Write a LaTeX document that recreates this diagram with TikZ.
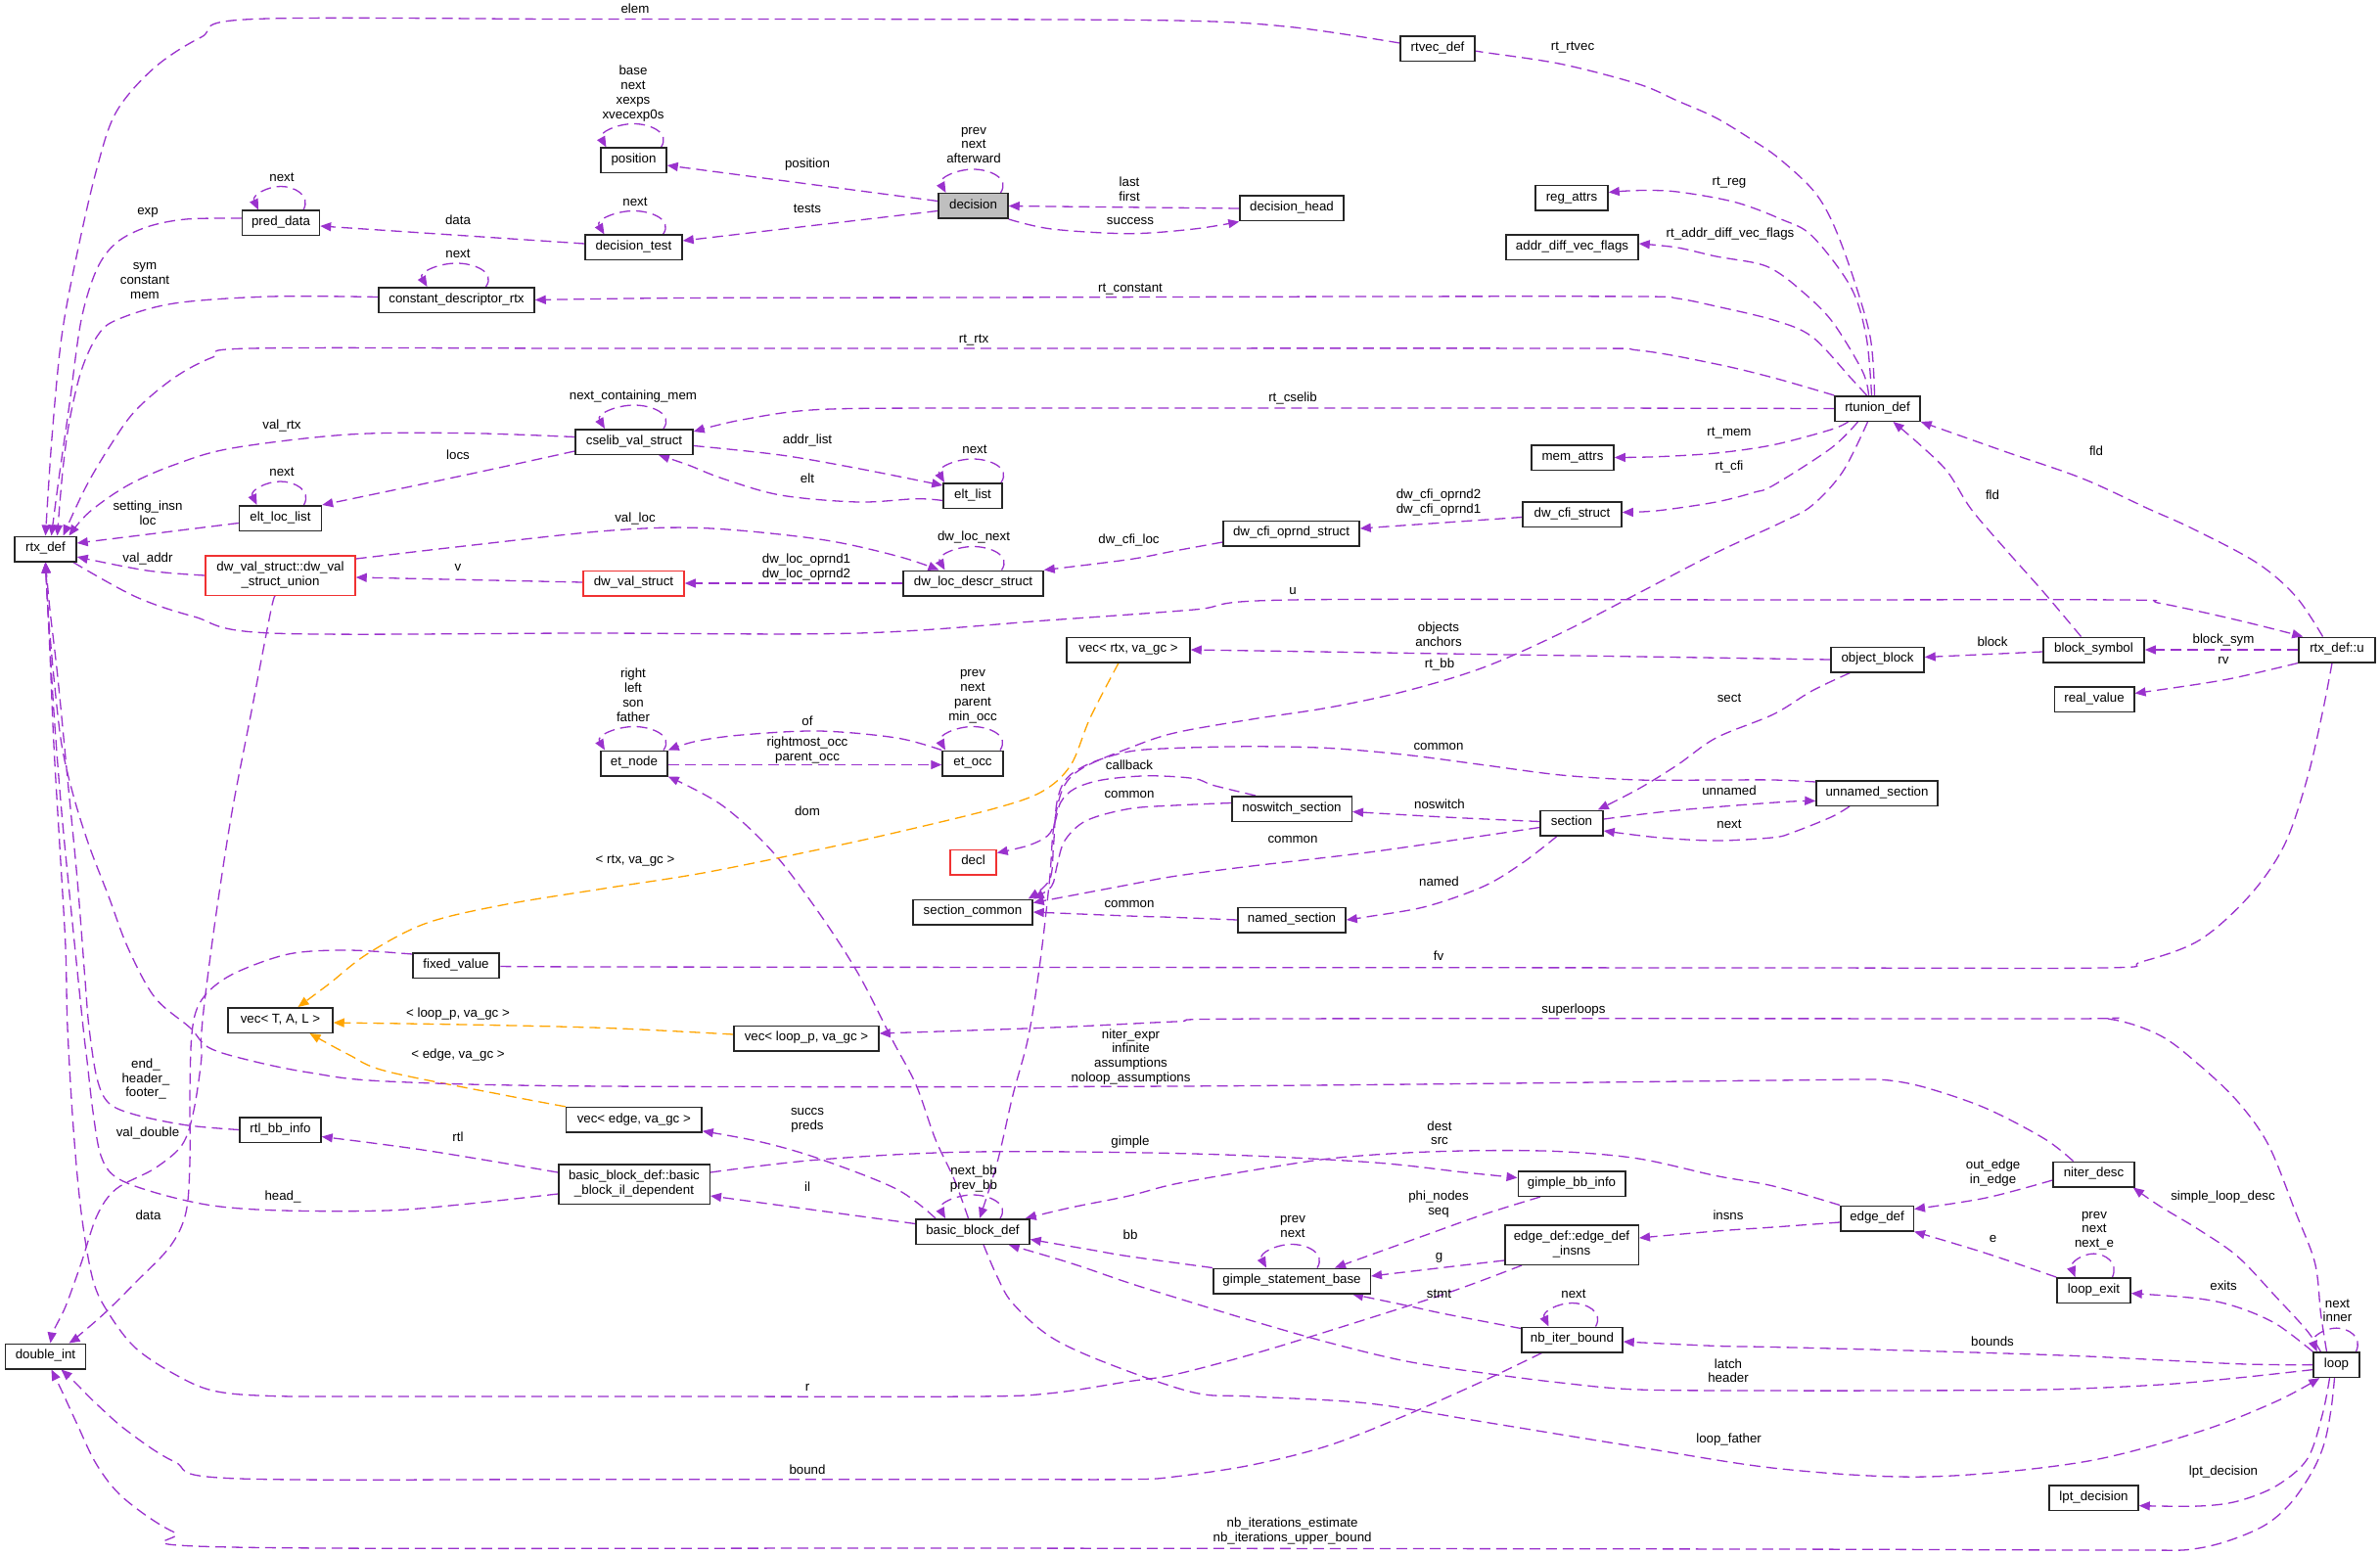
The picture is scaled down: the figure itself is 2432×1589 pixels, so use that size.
\documentclass[tikz,border=0pt]{standalone}
\usepackage{fontspec}
\setmainfont{Liberation Sans}
\usetikzlibrary{arrows.meta,calc}
\definecolor{cEdge}{RGB}{154,50,205}
\definecolor{cOrange}{RGB}{255,165,0}
\definecolor{cRed}{RGB}{240,50,50}
\definecolor{cHl}{RGB}{191,191,191}
\newcommand\gfont{\fontsize{13.3}{14.8}\selectfont}
\pgfdeclarelayer{bgw}
\pgfdeclarelayer{edges}
\pgfsetlayers{bgw,edges,main}
\newcommand\myloop[2]{\draw[e] ($(#1.north)+(#2,0)$) .. controls +(0.35*#2,-15) and +(0.6*#2,0) .. ($(#1.north)+(0,-24)$) .. controls +(-0.6*#2,0) and +(-0.3*#2,-15) .. ($(#1.north)+(-#2,0)$);}
\begin{document}
\begin{tikzpicture}[x=1pt,y=-1pt,
 box/.style={draw=black!85, line width=1.5pt, fill=white, minimum height=25.5pt, inner sep=0pt, font=\gfont, align=center, execute at begin node=\strut, execute at end node=\strut},
 box2/.style={box, minimum height=40.5pt},
 redbox/.style={draw=cRed},
 hlbox/.style={fill=cHl},
 lab/.style={font=\gfont, align=center, inner sep=0pt, execute at begin node=\strut, execute at end node=\strut},
 e/.style={draw=cEdge, line width=1.3pt, dash pattern=on 11pt off 6pt, -{Triangle[length=11pt,width=9pt]}},
 eo/.style={e, draw=cOrange},
]
\useasboundingbox (0,0) rectangle (2432,1589);
\begin{pgfonlayer}{bgw}
\fill[white] (0,0) rectangle (2432,1589);
\end{pgfonlayer}

% ---------- nodes ----------
\node[box, minimum width=63pt] (rtxdef) at (46.5,561) {rtx\_def};
\node[box, minimum width=82pt] (doubleint) at (46.5,1386) {double\_int};
\node[box, minimum width=79pt] (preddata) at (287,228) {pred\_data};
\node[box, minimum width=159pt] (constdesc) at (466.5,306.5) {constant\_descriptor\_rtx};
\node[box, minimum width=84pt] (eltloclist) at (286.5,529.5) {elt\_loc\_list};
\node[box2, redbox, minimum width=153pt] (dwvalunion) at (286.5,588) {dw\_val\_struct::dw\_val\\\_struct\_union};
\node[box, minimum width=88pt] (fixedvalue) at (466,986.5) {fixed\_value};
\node[box, minimum width=107pt] (vecT) at (286.5,1042.5) {vec< T, A, L >};
\node[box, minimum width=83pt] (rtlbb) at (286.5,1154.5) {rtl\_bb\_info};
\node[box, minimum width=67pt] (position) at (647.5,164) {position};
\node[box, minimum width=99pt] (dectest) at (647.5,253) {decision\_test};
\node[box, minimum width=120pt] (cselib) at (648,451.5) {cselib\_val\_struct};
\node[box, redbox, minimum width=103pt] (dwvalstruct) at (647.5,596) {dw\_val\_struct};
\node[box, minimum width=68pt] (etnode) at (648,780) {et\_node};
\node[box, minimum width=138.5pt] (vecedge) at (647.8,1144.3) {vec< edge, va\_gc >};
\node[box2, minimum width=154.5pt] (bbil) at (648,1210) {basic\_block\_def::basic\\\_block\_il\_dependent};
\node[box, minimum width=148pt] (vecloop) at (824,1061) {vec< loop\_p, va\_gc >};
\node[box, hlbox, minimum width=71pt] (decision) at (994.5,210.5) {decision};
\node[box, minimum width=60pt] (eltlist) at (994,506.5) {elt\_list};
\node[box, minimum width=143pt] (dwlocdescr) at (994.5,596) {dw\_loc\_descr\_struct};
\node[box, minimum width=62pt] (etocc) at (994,780) {et\_occ};
\node[box, redbox, minimum width=47pt] (decl) at (994.5,881) {decl};
\node[box, minimum width=122pt] (seccommon) at (994,932) {section\_common};
\node[box, minimum width=116pt] (bbdef) at (994,1258.5) {basic\_block\_def};
\node[box, minimum width=126pt] (vecrtx) at (1153,664) {vec< rtx, va\_gc >};
\node[box, minimum width=106pt] (dechead) at (1320,213) {decision\_head};
\node[box, minimum width=139pt] (dwcfioprnd) at (1319.5,545) {dw\_cfi\_oprnd\_struct};
\node[box, minimum width=122.5pt] (noswitch) at (1320,826.5) {noswitch\_section};
\node[box, minimum width=110pt] (namedsec) at (1320,940) {named\_section};
\node[box, minimum width=160.5pt] (gimplestmt) at (1320,1309) {gimple\_statement\_base};
\node[box, minimum width=76pt] (rtvecdef) at (1469,50) {rtvec\_def};
\node[box, minimum width=74pt] (regattrs) at (1606,202.5) {reg\_attrs};
\node[box, minimum width=135pt] (addrdiff) at (1606.5,253) {addr\_diff\_vec\_flags};
\node[box, minimum width=84pt] (memattrs) at (1607,467.5) {mem\_attrs};
\node[box, minimum width=101pt] (dwcfistruct) at (1606.5,525.5) {dw\_cfi\_struct};
\node[box, minimum width=64pt] (section) at (1606,841) {section};
\node[box, minimum width=109.5pt] (gimplebb) at (1606,1209.5) {gimple\_bb\_info};
\node[box2, minimum width=136.5pt] (edgeinsns) at (1606,1272) {edge\_def::edge\_def\\\_insns};
\node[box, minimum width=103pt] (nbiter) at (1606.5,1369) {nb\_iter\_bound};
\node[box, minimum width=87pt] (rtunion) at (1918.5,417.5) {rtunion\_def};
\node[box, minimum width=95pt] (objblock) at (1918.5,674) {object\_block};
\node[box, minimum width=124pt] (unnamed) at (1918,810.5) {unnamed\_section};
\node[box, minimum width=74.5pt] (edgedef) at (1918,1245) {edge\_def};
\node[box, minimum width=103pt] (blocksym) at (2139.5,664) {block\_symbol};
\node[box, minimum width=81.5pt] (realvalue) at (2140,714.5) {real\_value};
\node[box, minimum width=83pt] (niterdesc) at (2139.5,1200) {niter\_desc};
\node[box, minimum width=75pt] (loopexit) at (2139.5,1318.6) {loop\_exit};
\node[box, minimum width=91pt] (lptdec) at (2139.5,1530.6) {lpt\_decision};
\node[box, minimum width=78pt] (rtxu) at (2388,664) {rtx\_def::u};
\node[box, minimum width=47pt] (loop) at (2387.5,1394.6) {loop};

% ---------- edges ----------
\begin{pgfonlayer}{edges}
% into rtx_def top
\draw[e] plot[smooth,tension=.55] coordinates {([yshift=6pt]rtvecdef.west) (1318,27.5) (1200,21) (900,19.6) (600,19.6) (257,19.6) (205.6,38) (158,69) (119,114) (99,172) (79,258) (63,344) (53,448) (rtxdef.north)};
\draw[e] plot[smooth,tension=.55] coordinates {([yshift=5pt]preddata.west) (190,224) (150,232) (119,248) (99,275) (83,327) (71,413) (60,490) ([xshift=6pt]rtxdef.north)};
\draw[e] plot[smooth,tension=.55] coordinates {([yshift=3pt]constdesc.west) (277,303) (178,310) (119,327) (99,344) (83,379) (71,430) (64,482) ([xshift=12pt]rtxdef.north)};
\draw[e] plot[smooth,tension=.55] coordinates {(rtunion.north west) (1812,386) (1753.6,372) (1674.5,358) (1595,356) (1000,356) (600,356) (257,356) (217.5,365) (178,386) (138,420) (111,458) (87,499) ([xshift=18pt]rtxdef.north)};
\draw[e] plot[smooth,tension=.55] coordinates {([yshift=5pt]cselib.west) (474.5,442.6) (356,444) (237,458) (178,475) (130.5,496) (91,523.5) ([xshift=24pt]rtxdef.north)};
% into rtx_def right
\draw[e] ([yshift=-5pt]eltloclist.west) -- ([yshift=6pt]rtxdef.east);
\draw[e] plot[smooth,tension=.55] coordinates {(dwvalunion.west) (150,583) ([yshift=-8pt]rtxdef.east)};
% u
\draw[e] plot[smooth,tension=.55] coordinates {([xshift=-4pt]rtxdef.south east) (138,609.5) (198,630) (277,647) (600,647) (877,647) (1074.5,633.6) (1220,623) (1318.6,613) (1820,613) (2168,613) (2207,616.4) (2286,633.6) ([xshift=5pt]rtxu.north west)};
% cselib related
\draw[e] plot[smooth,tension=.55] coordinates {([yshift=4pt]cselib.south west) (474.5,485.6) (eltloclist.north east)};
\draw[e] plot[smooth,tension=.55] coordinates {([yshift=-4pt]cselib.east) (797.7,465) (876.8,478.7) ([yshift=-3pt]eltlist.north west)};
\draw[e] plot[smooth,tension=.55] coordinates {([yshift=-5pt]eltlist.west) (936,509.7) (876.8,513) (797.7,506) (738.4,489) (702.8,475) ([xshift=25pt]cselib.south)};
% decision related
\draw[e] ([yshift=4pt]dectest.west) -- ([yshift=-3pt]preddata.east);
\draw[e] ([yshift=5pt]decision.west) -- ([yshift=-5pt]position.east);
\draw[e] ([yshift=-5pt]decision.west) -- ([yshift=7pt]dectest.east);
\draw[e] (dechead.west) -- (decision.east);
\draw[e] plot[smooth,tension=.55] coordinates {(decision.south east) (1074.5,234) (1153.6,238.7) (1220,234) (dechead.south west)};
% rtunion_def out
\draw[e] plot[smooth,tension=.55] coordinates {([xshift=-11pt]rtunion.north) (1891,386) (1851.5,344) (1812,327) (1753.6,313) (1714,305) (1674.5,303) (1400,303) (1000,304) (700,304.5) (constdesc.east)};
\draw[e] plot[smooth,tension=.55] coordinates {([xshift=-3pt]rtunion.north) (1911,344) (1891,275.5) (1871,224) (1851.5,193) (1818,162) (1793,144.6) (1753.6,120.5) (1714,103) (1674.5,86) (1595,65.4) (1516,53.4) ([yshift=-2pt]rtvecdef.east)};
\draw[e] plot[smooth,tension=.55] coordinates {([xshift=-6pt]rtunion.north) (1907,344) (1891,293) (1851.5,241) (1820,224) (1773,206.6) (1714,196) (1674.5,194.6) ([yshift=6pt]regattrs.east)};
\draw[e] plot[smooth,tension=.55] coordinates {([xshift=-9pt]rtunion.north) (1903,379) (1871,327) (1836,293) (1812,275.5) (1793,268.6) (1753.6,262) (1714,253) ([yshift=4pt]addrdiff.east)};
\draw[e] plot[smooth,tension=.55] coordinates {(rtunion.west) (1600,417) (1200,417) (995,417) (837,418.5) (758,429) ([yshift=-3pt]cselib.north east)};
\draw[e] plot[smooth,tension=.55] coordinates {([xshift=-30pt]rtunion.south) (1871,439) (1812,454.6) (1753.6,463) (1694,466.7) (memattrs.east)};
\draw[e] plot[smooth,tension=.55] coordinates {([xshift=-20pt]rtunion.south) (1871,458) (1812,496) (1793,503) (1753.6,513) (1694,521.8) ([yshift=2pt]dwcfistruct.east)};
\draw[e] plot[smooth,tension=.55] coordinates {([xshift=-10pt]rtunion.south) (1883,482) (1851.5,516.6) (1820,534) (1753.6,564.8) (1674.5,606) (1595,647) (1516,682) (1437,706) (1358,723) (1279,735) (1200,749) (1153.6,764.5) (1106,785) (1086,806) (1076.5,847) (1072.5,899) (1062.6,985) (1050.7,1060) (1035,1119) (1019,1188) ([xshift=7pt]bbdef.north)};
% dwarf
\draw[e] ([yshift=-3pt]dwcfistruct.west) -- ([yshift=5pt]dwcfioprnd.east);
\draw[e] plot[smooth,tension=.55] coordinates {([yshift=-9pt]dwcfioprnd.west) (1200,563) (1153.6,571.7) (dwlocdescr.north east)};
\draw[e] (dwlocdescr.west) -- (dwvalstruct.east);
\draw[e] plot[smooth,tension=.55] coordinates {([yshift=-4pt]dwvalunion.north east) (474.5,558) (620,542.4) (718.6,539.6) (837,551) (916,568) ([xshift=-35pt]dwlocdescr.north)};
\draw[e] ([yshift=1pt]dwvalstruct.west) -- ([yshift=-2pt]dwvalunion.east);
% et
\draw[e] plot[smooth,tension=.55] coordinates {(etocc.north west) (916,754) (837,747) (758,751) (710.7,757.6) (etnode.north east)};
\draw[e] ([yshift=-1.5pt]etnode.east) -- ([yshift=-1.5pt]etocc.west);
\draw[e] plot[smooth,tension=.55] coordinates {([xshift=-4.5pt]bbdef.north) (975,1205) (955.6,1163.6) (936,1108.5) (912,1063) (877,995) (837,933) (790,871) (738,823) (etnode.south east)};
% vec templates
\draw[eo] plot[smooth,tension=.55] coordinates {([xshift=-10pt]vecrtx.south) (1114,733.5) (1094,782) (1064.6,809) (1015,826.5) (916,850.6) (837,868) (718.6,892) (620,907.5) (514,924.7) (435,943.6) (375.6,974.6) (336,1005.6) ([xshift=18pt]vecT.north)};
\draw[eo] plot[smooth,tension=.55] coordinates {([yshift=4pt]vecloop.west) (620,1050.5) (474.5,1047) ([yshift=-2.5pt]vecT.east)};
\draw[eo] plot[smooth,tension=.55] coordinates {(vecedge.north west) (514,1118.8) (395,1094.7) (356,1077.5) ([xshift=30pt]vecT.south)};
% basic block
\draw[e] plot[smooth,tension=.55] coordinates {([xshift=-38pt]bbdef.north) (916,1215) (837,1184) (778,1167) ([yshift=2pt]vecedge.south east)};
\draw[e] ([yshift=8pt]bbdef.west) -- ([yshift=-12pt]bbil.east);
\draw[e] plot[smooth,tension=.55] coordinates {([yshift=-9pt]bbil.north west) (435,1175.5) ([yshift=-7pt]rtlbb.east)};
\draw[e] plot[smooth,tension=.55] coordinates {([yshift=-9pt]bbil.north east) (837,1185) (995,1177) (1220,1179) (1398,1187.5) (1496.5,1198) ([yshift=6pt]gimplebb.west)};
% into rtx_def bottom
\draw[e] plot[smooth,tension=.55] coordinates {([yshift=-10pt]bbil.west) (474.5,1230.5) (395,1237) (289,1237) (217.5,1232) (158,1218.5) (118.6,1203) (103,1180.6) (95,1136) (89,1084) (85,1050) (73,933) (63,830) (55,727) (49,623) (rtxdef.south)};
\draw[e] plot[smooth,tension=.55] coordinates {(rtlbb.west) (190,1149.7) (138,1139) (111,1127) (99,1101.6) (91,1050) (87,1002) (79,899) (69,795.5) (59,692) (51,623) (rtxdef.south)};
\draw[e] plot[smooth,tension=.55] coordinates {([xshift=18pt]edgeinsns.south west) (1476.8,1322) (1358,1360) (1279,1384) (1200,1404.7) (1153.6,1411.6) (1074.5,1423.6) (995,1427) (700,1427) (400,1427) (277,1426.5) (217.5,1421) (178,1404) (138,1377) (111,1342) (95,1308) (83,1239) (75,1153) (69,1050) (67,967.7) (61,864) (55,761) (50.6,658) (rtxdef.south)};
\draw[e] plot[smooth,tension=.55] coordinates {([xshift=-21pt]niterdesc.north) (2089,1163.6) (2029.5,1132.6) (1970,1112) (1930.6,1104) (1891,1103) (1812,1104) (1200,1110) (620,1110) (395,1105) (316,1096) (257,1084) (213.5,1070.6) (194,1050) (158,1019) (130.5,968) (111,916) (91,864) (75,813) (63,761) (55,692) (49,623) (rtxdef.south)};
% into double_int
\draw[e] plot[smooth,tension=.55] coordinates {([xshift=-5pt]dwvalunion.south) (277,623) (257,726.6) (237,830) (221,933) (209.6,1019) (205.6,1060) (205.6,1084) (197.7,1136) (186,1170) (158,1194) (118.6,1215) (99,1242.5) (83,1290.7) (67,1335) (55,1359.4) ([xshift=5pt]doubleint.north)};
\draw[e] plot[smooth,tension=.55] coordinates {([yshift=-2pt]fixedvalue.north west) (356,971) (296.6,974.6) (245,992) (217.5,1009) (201.7,1029.7) (195.7,1060) (194,1119) (194,1187.5) (190,1239) (174,1273.5) (138,1311) (106.8,1342) (79,1366) ([xshift=24pt]doubleint.north)};
\draw[e] plot[smooth,tension=.55] coordinates {([xshift=-31pt]nbiter.south) (1516,1411) (1437,1446) (1358,1477) (1279,1497) (1200,1509) (1153.6,1511.7) (995,1511.7) (600,1511.7) (237,1510.7) (178,1493.5) (130.5,1462.6) (99,1435) (75,1411) ([xshift=16pt]doubleint.south)};
\draw[e] plot[smooth,tension=.55] coordinates {([xshift=-2pt]loop.south) (2382,1440) (2375,1475) (2362,1505) (2338,1539) (2306,1563) (2247,1582) (2168,1584) (1812,1583) (1000,1582) (237,1581) (178,1565.7) (126.5,1531) (99,1497) (79,1455.7) (63,1421) ([xshift=6pt]doubleint.south)};
% loop related
\draw[e] plot[smooth,tension=.55] coordinates {([xshift=-7pt]loop.south) (2373,1446) (2357.6,1491) (2326,1518.4) (2286.5,1534) (2247,1539) ([yshift=-8pt]lptdec.east)};
\draw[e] plot[smooth,tension=.55] coordinates {([xshift=11pt]bbdef.south) (1019,1304.6) (1035,1332) (1074.5,1366.7) (1133.8,1394) (1220,1423) (1279,1427) (1398,1434) (1516,1453) (1674.5,1478.8) (1820,1501) (1970,1509) (2128,1494) (2247,1463) (2326,1432) ([xshift=7pt]loop.south west)};
\draw[e] plot[smooth,tension=.55] coordinates {([yshift=-5pt]loop.west) (2286.5,1408) (2207,1415) (2089,1420) (1930.6,1421) (1812,1421) (1674.5,1420) (1595,1413) (1516,1403) (1437,1391) (1358,1372) (1279,1349.6) (1200,1325.5) (1153.6,1311) (1094,1290.7) ([xshift=-22pt]bbdef.south east)};
\draw[e] plot[smooth,tension=.55] coordinates {(loop.west) (2286.5,1393.7) (2128,1385.8) (1970,1380.6) (1812,1376.5) (1753.6,1375.4) ([yshift=-2pt]nbiter.east)};
\draw[e] plot[smooth,tension=.55] coordinates {(loop.north west) (2326,1353) (2286.5,1335.8) (2247,1327) ([yshift=-3pt]loopexit.east)};
\draw[e] plot[smooth,tension=.55] coordinates {([xshift=8pt]loop.north west) (2357.6,1360) (2326,1325.5) (2286.5,1284) (2247,1256.6) (2207,1232.5) ([xshift=-2pt]niterdesc.south east)};
\draw[e] plot[smooth,tension=.55] coordinates {([xshift=-10pt]loop.north) (2371.5,1342.7) (2365.6,1291) (2346,1239.4) (2318,1170) (2286.5,1125.6) (2247,1088) (2207,1058) (2156,1041.4) (2089,1041) (1300,1041) (1200,1044) (1074.5,1050) ([yshift=5pt]vecloop.east)};
% edge_def related
\draw[e] plot[smooth,tension=.55] coordinates {([yshift=-6pt]niterdesc.west) (2029.5,1224) ([yshift=-4pt]edgedef.north east)};
\draw[e] plot[smooth,tension=.55] coordinates {(loopexit.north west) (2029.5,1280.7) (edgedef.south east)};
\draw[e] plot[smooth,tension=.55] coordinates {([yshift=-4pt]edgedef.west) (1812,1254) (1753.6,1258) ([yshift=7pt]edgeinsns.east)};
\draw[e] plot[smooth,tension=.55] coordinates {(edgedef.north west) (1812,1212) (1753.6,1201.5) (1674.5,1184) (1595,1176.7) (1516,1175.7) (1437,1178) (1358,1184) (1279,1196) (1200,1210) (1153.6,1222) (1094,1234) ([xshift=-5pt]bbdef.north east)};
\draw[e] plot[smooth,tension=.55] coordinates {([yshift=-16pt]edgeinsns.west) (1476.8,1295) ([yshift=5pt]gimplestmt.east)};
\draw[e] plot[smooth,tension=.55] coordinates {([yshift=-2pt]nbiter.north west) (1476.8,1342.7) (1437,1334) ([xshift=62pt]gimplestmt.south)};
\draw[e] plot[smooth,tension=.55] coordinates {([xshift=-32pt]gimplebb.south) (1516,1241) (1457,1262) ([xshift=44pt]gimplestmt.north)};
\draw[e] plot[smooth,tension=.55] coordinates {(gimplestmt.north west) (1153.6,1283.8) (1114,1277) ([yshift=-8pt]bbdef.east)};
% section related
\draw[e] plot[smooth,tension=.55] coordinates {([xshift=-28pt]objblock.south) (1851.5,706) (1812,730) (1753.6,754) (1714,781.7) (1674.5,806) ([xshift=-6pt]section.north east)};
\draw[e] (objblock.west) -- (vecrtx.east);
\draw[e] ([yshift=-2pt]blocksym.west) -- ([yshift=2.5pt]objblock.east);
\draw[e] (rtxu.west) -- (blocksym.east);
\draw[e] plot[smooth,tension=.55] coordinates {(rtxu.south west) (2286.5,692) (2247,699) ([yshift=6pt]realvalue.east)};
\draw[e] plot[smooth,tension=.55] coordinates {([xshift=-13pt]blocksym.north) (2089,606) (2049,561) (2014,520) (1990,482) (1962,454.6) ([xshift=16pt]rtunion.south)};
\draw[e] plot[smooth,tension=.55] coordinates {([xshift=-14.5pt]rtxu.north) (2346,609.5) (2306,575) (2240,540) (2195.5,520) (2128,489) (2049,461.5) (rtunion.south east)};
\draw[e] plot[smooth,tension=.55] coordinates {([xshift=-5pt]rtxu.south) (2373.5,726.6) (2357.6,795.5) (2334,864) (2298,916) (2247,961) (2187.7,983) (2148,989) (1812,989) (620,988) (fixedvalue.east)};
\draw[e] plot[smooth,tension=.55] coordinates {([xshift=-37pt]noswitch.north) (1239.5,802.4) (1220,795.5) (1173,792.8) (1126,797) (1098,806) (1084,819.6) (1078,840) (1070.5,854) (1050.7,864) ([yshift=-4pt]decl.north east)};
\draw[e] plot[smooth,tension=.55] coordinates {([yshift=-2pt]unnamed.north west) (1812,797) (1753.6,797) (1674.5,797) (1595,792) (1516,781.7) (1437,771.4) (1358,764.5) (1279,762.8) (1200,764.5) (1153.6,768) (1114,780) (1090,795.5) (1080,819.6) (1076.5,864) (1072.5,899) ([xshift=-5pt]seccommon.north east)};
\draw[e] plot[smooth,tension=.55] coordinates {([yshift=6pt]noswitch.west) (1200,823) (1153.6,826.5) (1110,838.6) (1088,859) (1080,885) (1074.5,905.7) (seccommon.north east)};
\draw[e] plot[smooth,tension=.55] coordinates {([yshift=-4.5pt]section.west) (1516,854) (1398,871) (1279,885) (1200,895.4) (1153.6,904) ([yshift=-4pt]seccommon.north east)};
\draw[e] plot[smooth,tension=.55] coordinates {(namedsec.west) (1200,937.4) (1153.6,936) (seccommon.east)};
\draw[e] plot[smooth,tension=.55] coordinates {([yshift=1.5pt]section.west) (1476.8,835) ([yshift=-3pt]noswitch.east)};
\draw[e] plot[smooth,tension=.55] coordinates {([xshift=-15pt]section.south) (1556,881.6) (1516,905.7) (1457,926.4) (1398,936.7) (namedsec.east)};
\draw[e] plot[smooth,tension=.55] coordinates {([yshift=4pt]section.east) (1714,828) (1820,819.6) ([yshift=-8pt]unnamed.west)};
\draw[e] plot[smooth,tension=.55] coordinates {([xshift=-28pt]unnamed.south) (1871,835) (1832,850.6) (1812,855.8) (1753.6,859) (1694,855.8) ([yshift=-8pt]section.east)};
% self loops
\myloop{preddata}{23}
\myloop{constdesc}{30}
\myloop{eltloclist}{24}
\myloop{position}{28}
\myloop{dectest}{30}
\myloop{cselib}{30}
\myloop{decision}{28}
\myloop{eltlist}{29}
\myloop{dwlocdescr}{29}
\myloop{etnode}{30}
\myloop{etocc}{28}
\myloop{bbdef}{28}
\myloop{gimplestmt}{26}
\myloop{nbiter}{24}
\myloop{loopexit}{19}
\myloop{loop}{20}
\end{pgfonlayer}

% ---------- labels ----------
\node[lab] (lb1) at (649,11) {elem};
\node[lab] (lb2) at (647,96.5) {base\\next\\xexps\\xvecexp0s};
\node[lab] (lb3) at (825,169) {position};
\node[lab] (lb4) at (995,150.5) {prev\\next\\afterward};
\node[lab] (lb5) at (1154,195.5) {last\\first};
\node[lab] (lb6) at (1155,227) {success};
\node[lab] (lb7) at (825,215) {tests};
\node[lab] (lb8) at (288,183) {next};
\node[lab] (lb9) at (151,217) {exp};
\node[lab] (lb10) at (468,227) {data};
\node[lab] (lb11) at (649,208) {next};
\node[lab] (lb12) at (1607,49) {rt\_rtvec};
\node[lab] (lb13) at (1767,187) {rt\_reg};
\node[lab] (lb14) at (1768,240) {rt\_addr\_diff\_vec\_flags};
\node[lab] (lb15) at (148,289) {sym\\constant\\mem};
\node[lab] (lb16) at (468,261) {next};
\node[lab] (lb17) at (1155,295.5) {rt\_constant};
\node[lab] (lb18) at (995,348) {rt\_rtx};
\node[lab] (lb19) at (647,406) {next\_containing\_mem};
\node[lab] (lb20) at (1321,408) {rt\_cselib};
\node[lab] (lb21) at (288,436) {val\_rtx};
\node[lab] (lb22) at (825,451) {addr\_list};
\node[lab] (lb23) at (1767,443) {rt\_mem};
\node[lab] (lb24) at (2142,463) {fld};
\node[lab] (lb25) at (996,461) {next};
\node[lab] (lb26) at (468,467) {locs};
\node[lab] (lb27) at (1767,478) {rt\_cfi};
\node[lab] (lb28) at (288,484) {next};
\node[lab] (lb29) at (825,491) {elt};
\node[lab] (lb30) at (2036,508) {fld};
\node[lab] (lb31) at (1470,514.5) {dw\_cfi\_oprnd2\\dw\_cfi\_oprnd1};
\node[lab] (lb32) at (151,526) {setting\_insn\\loc};
\node[lab] (lb33) at (649,531) {val\_loc};
\node[lab] (lb34) at (995,550) {dw\_loc\_next};
\node[lab] (lb35) at (1153.5,553) {dw\_cfi\_loc};
\node[lab] (lb36) at (151,572) {val\_addr};
\node[lab] (lb37) at (468,581) {v};
\node[lab] (lb38) at (824,580) {dw\_loc\_oprnd1\\dw\_loc\_oprnd2};
\node[lab] (lb39) at (1321,605) {u};
\node[lab] (lb40) at (1470,650.5) {objects\\anchors};
\node[lab] (lb41) at (2036,658) {block};
\node[lab] (lb42) at (2272,655) {block\_sym};
\node[lab] (lb43) at (2272,676) {rv};
\node[lab] (lb44) at (1471,679.5) {rt\_bb};
\node[lab] (lb45) at (647,712.5) {right\\left\\son\\father};
\node[lab] (lb46) at (994,712.5) {prev\\next\\parent\\min\_occ};
\node[lab] (lb47) at (1767,715) {sect};
\node[lab] (lb48) at (825,739) {of};
\node[lab] (lb49) at (825,767.5) {rightmost\_occ\\parent\_occ};
\node[lab] (lb50) at (1470,764) {common};
\node[lab] (lb51) at (1154,783.5) {callback};
\node[lab] (lb52) at (1767,810) {unnamed};
\node[lab] (lb53) at (1154,813) {common};
\node[lab] (lb54) at (1471,824) {noswitch};
\node[lab] (lb55) at (825,830.6) {dom};
\node[lab] (lb56) at (1767,844) {next};
\node[lab] (lb57) at (1321,859) {common};
\node[lab] (lb58) at (649,880) {< rtx, va\_gc >};
\node[lab] (lb59) at (1470.5,903) {named};
\node[lab] (lb60) at (1154,925) {common};
\node[lab] (lb61) at (1470,979) {fv};
\node[lab] (lb62) at (1608,1033) {superloops};
\node[lab] (lb63) at (468,1036.5) {< loop\_p, va\_gc >};
\node[lab] (lb64) at (468,1079) {< edge, va\_gc >};
\node[lab] (lb65) at (1155.5,1080.6) {niter\_expr\\infinite\\assumptions\\noloop\_assumptions};
\node[lab] (lb66) at (149,1103.5) {end\_\\header\_\\footer\_};
\node[lab] (lb67) at (825,1145.8) {succs\\preds};
\node[lab] (lb68) at (151,1159) {val\_double};
\node[lab] (lb69) at (1471,1159.8) {dest\\src};
\node[lab] (lb70) at (468,1163.5) {rtl};
\node[lab] (lb71) at (1155,1167.6) {gimple};
\node[lab] (lb72) at (2036.6,1199.2) {out\_edge\\in\_edge};
\node[lab] (lb73) at (995,1205.5) {next\_bb\\prev\_bb};
\node[lab] (lb74) at (825,1215) {il};
\node[lab] (lb75) at (2271.5,1223.6) {simple\_loop\_desc};
\node[lab] (lb76) at (289,1223.6) {head\_};
\node[lab] (lb77) at (1470,1231) {phi\_nodes\\seq};
\node[lab] (lb78) at (151.5,1243.6) {data};
\node[lab] (lb79) at (1766,1243.6) {insns};
\node[lab] (lb80) at (1321,1256) {prev\\next};
\node[lab] (lb81) at (2140,1258.5) {prev\\next\\next\_e};
\node[lab] (lb82) at (1155,1264) {bb};
\node[lab] (lb83) at (2036.6,1267) {e};
\node[lab] (lb84) at (1470.5,1285) {g};
\node[lab] (lb85) at (2272,1315.4) {exits};
\node[lab] (lb86) at (1470.5,1324) {stmt};
\node[lab] (lb87) at (1608,1324) {next};
\node[lab] (lb88) at (2388.5,1341.5) {next\\inner};
\node[lab] (lb89) at (2036,1372.5) {bounds};
\node[lab] (lb90) at (1766,1402.8) {latch\\header};
\node[lab] (lb91) at (825,1418.5) {r};
\node[lab] (lb92) at (1766.6,1472) {loop\_father};
\node[lab] (lb93) at (2272,1504.5) {lpt\_decision};
\node[lab] (lb94) at (825,1504) {bound};
\node[lab] (lb95) at (1320.6,1565.3) {nb\_iterations\_estimate\\nb\_iterations\_upper\_bound};
\end{tikzpicture}
\end{document}
